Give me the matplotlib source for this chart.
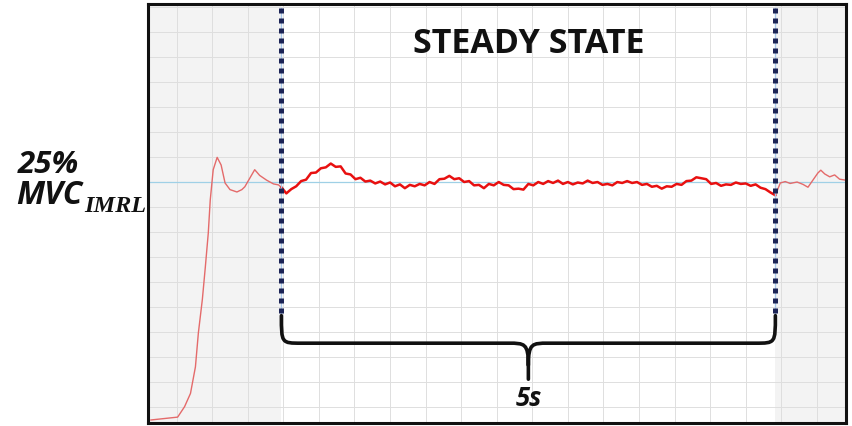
import numpy as np
import matplotlib
matplotlib.use("Agg")
import matplotlib.pyplot as plt
from matplotlib.path import Path
from matplotlib.patches import PathPatch

# force signal (%MVC) vs time (s)
steady_start = 1.35
steady_end = 6.35
target_level = 25.0

# transient before the steady window
rise_t = [0.03, 0.30, 0.37, 0.43, 0.48, 0.51, 0.55, 0.58, 0.61, 0.63, 0.66, 0.70,
          0.74, 0.78, 0.83, 0.90, 0.95, 0.98, 1.03, 1.08, 1.13, 1.20, 1.27, 1.32]
rise_y = [-0.1, 0.2, 1.3, 2.7, 5.5, 9.1, 12.6, 16.0, 19.6, 23.1, 26.3, 27.6,
          26.8, 24.9, 24.2, 23.95, 24.2, 24.5, 25.4, 26.3, 25.7, 25.2, 24.8, 24.7]

# steady state, sampled every 0.05 s
steady_y = [24.45, 23.80, 24.25, 24.55, 25.10, 25.25, 25.95, 26.00, 26.45, 26.55,
            26.95, 26.60, 26.65, 25.90, 25.80, 25.30, 25.45, 25.05, 25.15, 24.85,
            25.05, 24.75, 24.95, 24.55, 24.75, 24.35, 24.70, 24.55, 24.80, 24.65,
            25.00, 24.80, 25.30, 25.35, 25.65, 25.30, 25.40, 25.00, 25.10, 24.65,
            24.70, 24.35, 24.80, 24.65, 25.00, 24.70, 24.65, 24.25, 24.30, 24.20,
            24.80, 24.65, 25.00, 24.80, 25.10, 24.90, 25.15, 24.80, 25.00, 24.75,
            24.95, 24.85, 25.15, 24.90, 25.00, 24.70, 24.80, 24.65, 25.00, 24.90,
            25.10, 24.90, 25.00, 24.70, 24.80, 24.50, 24.60, 24.30, 24.55, 24.50,
            24.80, 24.70, 25.10, 25.15, 25.50, 25.40, 25.30, 24.80, 24.90, 24.60,
            24.75, 24.70, 24.95, 24.80, 24.85, 24.60, 24.75, 24.40, 24.25, 23.90,
            23.60]
steady_t = steady_start + 0.05 * np.arange(len(steady_y))

# after the steady window
tail_t = [6.35, 6.40, 6.45, 6.50, 6.57, 6.63, 6.68, 6.73, 6.78, 6.81, 6.85, 6.90, 6.95, 7.00, 7.06]
tail_y = [23.6, 24.9, 25.05, 24.85, 25.0, 24.75, 24.45, 25.2, 25.95, 26.25, 25.85, 25.55, 25.75, 25.3, 25.2]

fig = plt.figure(figsize=(8.52, 4.26), dpi=100)
ax = fig.add_axes([148 / 852, 3 / 426, 698 / 852, 419 / 426])
ax.set_xlim(0, 7.065)
ax.set_ylim(-0.42, 43.78)

# grid
ax.set_xticks(np.arange(0.29, 7.06, 0.36))
ax.set_yticks(np.arange(target_level - 9 * 2.637, 44, 2.637))
ax.grid(True, color="#dedede", lw=0.7)
ax.tick_params(length=0, labelbottom=False, labelleft=False)
ax.set_axisbelow(True)
for s in ax.spines.values():
    s.set_linewidth(2.2)
    s.set_color("#111111")

# shaded transient regions
ax.axvspan(0, steady_start, color="#f0f0f0", alpha=0.75, lw=0, zorder=0.5)
ax.axvspan(steady_end, 7.065, color="#f0f0f0", alpha=0.75, lw=0, zorder=0.5)

# target level
ax.axhline(target_level, color="#9fd0e6", lw=0.9, zorder=1)

# signal
ax.plot(rise_t + [steady_start], rise_y + [steady_y[0]], color="#e46a6a", lw=1.0, zorder=2)
ax.plot(steady_t, steady_y, color="#e81010", lw=1.8, zorder=2)
ax.plot(tail_t, tail_y, color="#e46a6a", lw=1.0, zorder=2)

# dotted boundaries of the steady window
y_dot_top, y_dot_bot = 43.4, 10.9
for xv in (steady_start, steady_end):
    ax.plot([xv, xv], [y_dot_top, y_dot_bot], color="#a9c8ea", lw=1.0, zorder=3)
    ax.plot([xv, xv], [y_dot_top, y_dot_bot], color="#1c2456", lw=3.6,
            dashes=(1, 1), dash_capstyle="butt", zorder=4)

# curly brace under the window
xm = (steady_start + steady_end) / 2
yh, ytip = 8.0, 4.2
rx, ry = 0.2, 2.9
verts = [
    (steady_start, y_dot_bot),
    (steady_start, yh), (steady_start, yh), (steady_start + rx, yh),
    (xm - rx, yh),
    (xm - 0.04, yh), (xm, yh), (xm, yh - ry * 0.8),
    (xm, ytip),
    (xm, yh - ry * 0.8),
    (xm, yh), (xm + 0.04, yh), (xm + rx, yh),
    (steady_end - rx, yh),
    (steady_end, yh), (steady_end, yh), (steady_end, y_dot_bot),
]
codes = [Path.MOVETO,
         Path.CURVE4, Path.CURVE4, Path.CURVE4,
         Path.LINETO,
         Path.CURVE4, Path.CURVE4, Path.CURVE4,
         Path.LINETO,
         Path.MOVETO,
         Path.CURVE4, Path.CURVE4, Path.CURVE4,
         Path.LINETO,
         Path.CURVE4, Path.CURVE4, Path.CURVE4]
ax.add_patch(PathPatch(Path(verts, codes), fill=False, color="#111111", lw=2.6,
                       capstyle="round", joinstyle="round", zorder=4))

ax.text(xm, 39.6, "STEADY STATE", ha="center", va="center", fontsize=24.5,
        fontweight="bold", family="Open Sans", color="#111111")
ax.text(xm, 2.2, "5s", ha="center", va="center", fontsize=18.5,
        fontweight="bold", style="italic", family="Open Sans", color="#111111")

# level label on the left
fig.text(18 / 852, 1 - 165 / 426, "25%", ha="left", va="center", fontsize=22.5,
         fontweight="bold", style="italic", family="Open Sans", color="#111111")
fig.text(16 / 852, 1 - 195 / 426, "MVC", ha="left", va="center", fontsize=23,
         fontweight="bold", style="italic", family="Open Sans", color="#111111")
fig.text(84 / 852, 1 - 207 / 426, "IMRL", ha="left", va="center", fontsize=17.5,
         fontweight="bold", style="italic", family="Liberation Serif", color="#111111")

fig.savefig("out.png", dpi=100)
